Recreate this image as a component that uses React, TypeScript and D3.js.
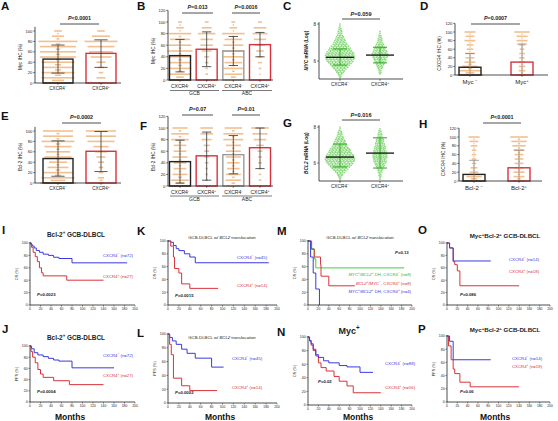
import React from "react";
import * as d3 from "d3";

const FONT = "'Liberation Sans', Arial, Helvetica, sans-serif";
const TAN = "#efb47c";
const RED = "#d8333a";
const BLUE = "#3a3ae0";
const GREEN = "#4cc437";
const INK = "#222";

// ---------- IHC dot-plot data (counts per 5% level, 0..100) ----------
const ihcLevels = [0, 5, 10, 15, 20, 25, 30, 35, 40, 45, 50, 55, 60, 65, 70, 75, 80, 85, 90, 95, 100];

const aMeans = [46, 57];
const aLows = [19, 30];
const aHighs = [73, 83];
const aDotsNeg = [20, 8, 22, 4, 22, 4, 20, 4, 22, 3, 24, 3, 24, 3, 24, 3, 26, 2, 8, 1, 5];
const aDotsPos = [4, 0, 6, 0, 3, 0, 4, 0, 6, 0, 14, 0, 16, 0, 18, 0, 22, 0, 12, 0, 5];

const bMeans = [42, 53, 50, 61];
const bLows = [14, 23, 25, 40];
const bHighs = [70, 83, 75, 82];
const bDotsGcbNeg = [18, 6, 18, 3, 18, 3, 16, 3, 18, 2, 20, 2, 18, 2, 16, 2, 18, 1, 6, 1, 3];
const bDotsGcbPos = [2, 0, 2, 0, 2, 0, 3, 0, 4, 0, 8, 0, 10, 0, 10, 0, 14, 0, 8, 0, 3];
const bDotsAbcNeg = [14, 4, 14, 2, 16, 2, 14, 2, 16, 2, 18, 2, 16, 2, 14, 2, 18, 1, 6, 1, 3];
const bDotsAbcPos = [1, 0, 1, 0, 2, 0, 3, 0, 4, 0, 6, 0, 8, 0, 10, 0, 12, 0, 10, 0, 3];

const dMeans = [18, 30];
const dLows = [0, 0];
const dHighs = [50, 72];
const dDotsNeg = [30, 8, 20, 3, 14, 3, 10, 2, 8, 1, 8, 1, 6, 1, 6, 1, 10, 1, 8, 1, 10];
const dDotsPos = [6, 2, 6, 1, 6, 1, 5, 1, 5, 1, 5, 1, 4, 1, 6, 1, 10, 1, 10, 1, 14];

const eMeans = [47, 61];
const eLows = [13, 22];
const eHighs = [81, 99];
const eDotsNeg = [24, 10, 22, 4, 20, 3, 14, 2, 12, 2, 18, 2, 16, 2, 18, 3, 22, 2, 20, 2, 20];
const eDotsPos = [4, 2, 4, 0, 3, 0, 3, 0, 4, 0, 6, 0, 8, 0, 10, 0, 18, 0, 20, 0, 20];

const fMeans = [42, 52, 54, 66];
const fLows = [5, 10, 21, 30];
const fHighs = [79, 93, 87, 100];
const fDotsGcbNeg = [16, 6, 14, 3, 12, 2, 10, 2, 10, 2, 12, 2, 10, 2, 10, 2, 14, 2, 14, 2, 12];
const fDotsGcbPos = [2, 0, 2, 0, 2, 0, 2, 0, 3, 0, 4, 0, 4, 0, 5, 0, 8, 0, 10, 0, 10];
const fDotsAbcNeg = [10, 3, 12, 2, 12, 2, 10, 2, 10, 2, 12, 2, 12, 2, 12, 2, 16, 2, 16, 2, 14];
const fDotsAbcPos = [1, 0, 2, 0, 2, 0, 2, 0, 3, 0, 3, 0, 4, 0, 6, 0, 10, 0, 12, 0, 14];

const hMeans = [15, 30];
const hLows = [0, 0];
const hHighs = [47, 70];
const hDotsNeg = [30, 6, 14, 2, 8, 1, 6, 1, 4, 1, 4, 1, 4, 1, 4, 1, 6, 1, 8, 1, 10];
const hDotsPos = [10, 3, 10, 2, 10, 2, 8, 2, 8, 2, 8, 2, 8, 2, 10, 2, 12, 2, 14, 2, 16];

// ---------- mRNA scatter data (counts per 0.1 log bin) ----------
const cNegStart = 5.1;
const cNegCounts = [1, 2, 3, 5, 6, 8, 10, 12, 14, 16, 17, 18, 18, 17, 16, 14, 13, 11, 9, 8, 7, 6, 5, 4, 3, 3, 2, 2, 1, 1];
const cPosStart = 5.3;
const cPosCounts = [1, 2, 2, 3, 4, 5, 6, 7, 8, 9, 10, 10, 9, 8, 7, 6, 5, 4, 3, 3, 2, 2, 1, 1];
const cMeans = [6.2, 6.32];
const cLows = [5.78, 5.9];
const cHighs = [6.65, 6.74];

const gNegStart = 5.0;
const gNegCounts = [1, 1, 2, 3, 4, 6, 8, 10, 12, 14, 16, 17, 18, 18, 17, 16, 14, 13, 12, 10, 9, 8, 7, 6, 5, 4, 3, 3, 2, 1, 1];
const gPosStart = 5.1;
const gPosCounts = [1, 1, 2, 2, 3, 3, 4, 5, 6, 7, 8, 8, 9, 9, 9, 8, 8, 7, 7, 6, 6, 5, 5, 4, 3, 3, 2, 2, 1];
const gMeans = [6.33, 6.55];
const gLows = [5.78, 5.72];
const gHighs = [7.05, 7.4];

// ---------- Kaplan-Meier curves [month, %] ----------
type Pt = [number, number];
const kmIBlue: Pt[] = [[0, 100], [2, 97], [5, 95], [8, 92], [12, 88], [18, 85], [25, 82], [35, 80], [45, 77], [55, 75], [80, 68], [185, 68]];
const kmIRed: Pt[] = [[0, 100], [3, 93], [6, 85], [10, 78], [14, 70], [18, 60], [22, 52], [25, 47], [70, 40], [140, 40]];
const kmJBlue: Pt[] = [[0, 100], [3, 95], [8, 88], [15, 84], [25, 81], [35, 78], [45, 75], [55, 73], [80, 61], [160, 61]];
const kmJRed: Pt[] = [[0, 100], [2, 90], [5, 80], [10, 70], [15, 58], [20, 50], [25, 44], [45, 38], [75, 31], [140, 31]];
const kmKBlue: Pt[] = [[0, 100], [5, 98], [10, 93], [15, 88], [20, 85], [30, 80], [40, 75], [50, 66], [185, 66]];
const kmKRed: Pt[] = [[0, 100], [5, 92], [10, 75], [12, 57], [20, 50], [25, 33], [40, 26], [92, 26]];
const kmLBlue: Pt[] = [[0, 100], [3, 95], [8, 90], [15, 85], [25, 78], [35, 72], [50, 65], [80, 52], [102, 52]];
const kmLRed: Pt[] = [[0, 100], [3, 85], [6, 70], [10, 36], [25, 25], [40, 18], [90, 18]];
const kmMGreen: Pt[] = [[0, 100], [5, 88], [12, 72], [15, 58], [185, 58]];
const kmMRed: Pt[] = [[0, 100], [7, 87], [12, 75], [24, 63], [25, 45], [40, 30], [90, 30]];
const kmMBlue: Pt[] = [[0, 100], [5, 75], [10, 50], [15, 25], [22, 0]];
const kmNBlue: Pt[] = [[0, 100], [3, 95], [6, 90], [10, 82], [15, 74], [20, 70], [30, 65], [40, 62], [60, 58], [75, 56], [100, 48], [125, 48]];
const kmNRed: Pt[] = [[0, 100], [3, 94], [6, 88], [10, 80], [15, 72], [20, 62], [25, 55], [35, 50], [50, 42], [60, 35], [75, 28], [87, 18], [140, 18]];
const kmOBlue: Pt[] = [[0, 100], [5, 92], [12, 71], [85, 71]];
const kmORed: Pt[] = [[0, 100], [5, 92], [12, 70], [15, 65], [20, 55], [25, 31], [140, 31]];
const kmPBlue: Pt[] = [[0, 100], [5, 92], [12, 64], [85, 64]];
const kmPRed: Pt[] = [[0, 100], [3, 85], [8, 64], [12, 50], [15, 43], [25, 30], [45, 23], [140, 23]];

const pctTicks = [0, 20, 40, 60, 80, 100];
const pctTicks120 = [0, 20, 40, 60, 80, 100, 120];
const monthTicks = [0, 20, 40, 60, 80, 100, 120, 140, 160, 180, 200];

// ---------- text helpers ----------
type Seg = { t: string; sup?: boolean; it?: boolean; b?: boolean };
const sp = (base: string, sup: string, rest = ""): Seg[] =>
  rest ? [{ t: base }, { t: sup, sup: true }, { t: rest }] : [{ t: base }, { t: sup, sup: true }];

function Rich({ x, y, segs, size, fill = INK, anchor = "start", weight = "normal", rotate = false }: any) {
  let shifted = false;
  const out: any[] = [];
  segs.forEach((s: Seg, i: number) => {
    let dy: number | undefined;
    if (s.sup && !shifted) { dy = -size * 0.4; shifted = true; }
    else if (!s.sup && shifted) { dy = size * 0.4; shifted = false; }
    out.push(
      <tspan key={i} dy={dy} fontSize={s.sup ? size * 0.7 : size}
        fontStyle={s.it ? "italic" : undefined} fontWeight={s.b ? "bold" : undefined}>{s.t}</tspan>
    );
  });
  return (
    <text x={x} y={y} fontSize={size} textAnchor={anchor} fontWeight={weight} fill={fill}
      fontFamily={FONT} transform={rotate ? `rotate(-90 ${x} ${y})` : undefined}>{out}</text>
  );
}

function PLabel({ x, y, val, size = 5.5, anchor = "middle", fill = INK }: any) {
  return (
    <text x={x} y={y} fontSize={size} textAnchor={anchor} fontFamily={FONT} fill={fill} fontWeight="bold">
      <tspan fontStyle="italic">P</tspan>{val}
    </text>
  );
}

// ---------- IHC bar panel ----------
function BarPanel({ c }: any) {
  const y = d3.scaleLinear().domain([0, 100]).range([c.y0, c.y100]);
  const x = d3.scalePoint<number>().domain(c.means.map((_: any, i: number) => i))
    .range([c.centers[0], c.centers[1]]);
  return (
    <g>
      {c.dots.map((counts: number[], gi: number) =>
        counts.map((n, li) => {
          if (!n) return null;
          const w = Math.min(n * c.sp, c.cap);
          return <rect key={`${gi}-${li}`} x={x(gi)! - w / 2} y={y(ihcLevels[li]) - 0.8} width={w} height={1.6}
            fill={TAN} opacity={0.85} />;
        })
      )}
      {c.means.map((m: number, i: number) => (
        <rect key={"b" + i} x={x(i)! - c.bw / 2} y={y(m)} width={c.bw} height={y(0) - y(m)}
          fill="none" stroke={c.strokes[i]} strokeWidth={1.4} />
      ))}
      {c.means.map((m: number, i: number) => {
        const cx = x(i)!;
        const hw = c.bw * 0.22;
        return (
          <g key={"e" + i} stroke={c.errColor || "#333"} strokeWidth={0.8}>
            <line x1={cx} x2={cx} y1={y(c.lows[i])} y2={y(c.highs[i])} />
            <line x1={cx - hw} x2={cx + hw} y1={y(c.highs[i])} y2={y(c.highs[i])} />
            {c.lows[i] > 0 && <line x1={cx - hw} x2={cx + hw} y1={y(c.lows[i])} y2={y(c.lows[i])} />}
          </g>
        );
      })}
      <line x1={c.axisX} x2={c.axisX} y1={y(0)} y2={y(c.axisMax)} stroke={INK} strokeWidth={0.8} />
      <line x1={c.axisX} x2={c.axisEnd} y1={y(0)} y2={y(0)} stroke={INK} strokeWidth={0.8} />
      {c.ticks.map((t: number) => (
        <g key={"t" + t}>
          <line x1={c.axisX - 1.8} x2={c.axisX} y1={y(t)} y2={y(t)} stroke={INK} strokeWidth={0.6} />
          <text x={c.axisX - 2.6} y={y(t) + 1.5} fontSize={4.2} textAnchor="end" fontFamily={FONT} fill={INK}>{t}</text>
        </g>
      ))}
      {c.means.map((_: number, i: number) => (
        <line key={"xt" + i} x1={x(i)} x2={x(i)} y1={y(0)} y2={y(0) + 1.8} stroke={INK} strokeWidth={0.6} />
      ))}
      {c.cats.map((segs: Seg[], i: number) => (
        <Rich key={"c" + i} x={x(i)} y={c.catY} segs={segs} size={c.catSize} anchor="middle" />
      ))}
      <Rich x={c.axisX - c.yLabOff} y={(y(0) + y(100)) / 2} segs={c.yLabel} size={c.yLabSize || 4.6} anchor="middle" rotate />
      {c.pvals.map((p: any, i: number) => (
        <g key={"p" + i}>
          <line x1={p.x1} x2={p.x2} y1={p.y} y2={p.y} stroke={INK} strokeWidth={0.8} />
          <PLabel x={(p.x1 + p.x2) / 2} y={p.y - 4.5} val={p.val} size={5.4} />
        </g>
      ))}
      {c.groups && c.groups.map((g: any, i: number) => (
        <g key={"g" + i}>
          <line x1={g.x1} x2={g.x2} y1={g.y} y2={g.y} stroke={INK} strokeWidth={0.6} />
          <text x={(g.x1 + g.x2) / 2} y={g.y + 4.6} fontSize={5} textAnchor="middle" fontFamily={FONT} fill={INK}>{g.label}</text>
        </g>
      ))}
    </g>
  );
}

// ---------- mRNA scatter panel ----------
function ScatterPanel({ c }: any) {
  const y = d3.scaleLinear().domain([6, 8]).range([c.y6, c.y8]);
  const x = d3.scalePoint<number>().domain([0, 1]).range(c.centers);
  const spacing = 1.7;
  return (
    <g>
      {c.sets.map((s: any, gi: number) =>
        s.counts.map((n: number, bi: number) => {
          const v = s.start + bi * 0.1;
          return d3.range(n).map((k) => (
            <circle key={`${gi}-${bi}-${k}`} cx={x(gi)! + (k - (n - 1) / 2) * spacing} cy={y(v) + (k % 2) * 0.6}
              r={0.85} fill={GREEN} opacity={0.65} />
          ));
        })
      )}
      {c.means.map((m: number, i: number) => {
        const cx = x(i)!;
        return (
          <g key={"e" + i}>
            <line x1={cx} x2={cx} y1={y(c.lows[i])} y2={y(c.highs[i])} stroke="#2fa51f" strokeWidth={0.9} />
            <line x1={cx - 7} x2={cx + 7} y1={y(c.highs[i])} y2={y(c.highs[i])} stroke="#2fa51f" strokeWidth={1} />
            <line x1={cx - 7} x2={cx + 7} y1={y(c.lows[i])} y2={y(c.lows[i])} stroke="#2fa51f" strokeWidth={1} />
            <line x1={cx - 14} x2={cx + 14} y1={y(m)} y2={y(m)} stroke="#111" strokeWidth={1.3} />
          </g>
        );
      })}
      <line x1={c.axisX} x2={c.axisX} y1={c.axisY} y2={y(8.1)} stroke={INK} strokeWidth={0.8} />
      <line x1={c.axisX} x2={c.axisEnd} y1={c.axisY} y2={c.axisY} stroke={INK} strokeWidth={0.8} />
      {[6, 8].map((t) => (
        <g key={t}>
          <line x1={c.axisX - 1.8} x2={c.axisX} y1={y(t)} y2={y(t)} stroke={INK} strokeWidth={0.6} />
          <text x={c.axisX - 3} y={y(t) + 1.5} fontSize={4.5} textAnchor="end" fontFamily={FONT} fill={INK}>{t}</text>
        </g>
      ))}
      {[0, 1].map((i) => (
        <g key={"c" + i}>
          <line x1={x(i)} x2={x(i)} y1={c.axisY} y2={c.axisY + 1.8} stroke={INK} strokeWidth={0.6} />
          <Rich x={x(i)} y={c.axisY + 6.5} segs={c.cats[i]} size={4.8} anchor="middle" />
        </g>
      ))}
      <Rich x={c.axisX - 11} y={(c.axisY + y(8.1)) / 2} segs={c.yLabel} size={4.8} anchor="middle" weight="bold" rotate />
      <line x1={c.p.x1} x2={c.p.x2} y1={c.p.y} y2={c.p.y} stroke={INK} strokeWidth={0.8} />
      <PLabel x={(c.p.x1 + c.p.x2) / 2} y={c.p.y - 3.2} val={c.p.val} size={5.6} />
    </g>
  );
}

// ---------- KM panel ----------
function KMPanel({ c }: any) {
  const x = d3.scaleLinear().domain([0, 200]).range([c.x0, c.x1]);
  const y = d3.scaleLinear().domain([0, 100]).range([c.yB, c.yT]);
  const line = d3.line<Pt>().x((d) => x(d[0])).y((d) => y(d[1])).curve(d3.curveStepAfter);
  return (
    <g>
      {c.curves.map((cv: any, i: number) => (
        <path key={i} d={line(cv.pts) || ""} fill="none" stroke={cv.color} strokeWidth={1} />
      ))}
      <line x1={c.x0} x2={c.x0} y1={y(0)} y2={y(100) - 1} stroke={INK} strokeWidth={0.8} />
      <line x1={c.x0} x2={c.x1} y1={y(0)} y2={y(0)} stroke={INK} strokeWidth={0.8} />
      {pctTicks.map((t) => (
        <g key={"y" + t}>
          <line x1={c.x0 - 1.6} x2={c.x0} y1={y(t)} y2={y(t)} stroke={INK} strokeWidth={0.5} />
          <text x={c.x0 - 2.4} y={y(t) + 1.3} fontSize={3.5} textAnchor="end" fontFamily={FONT} fill={INK}>{t}</text>
        </g>
      ))}
      {monthTicks.map((t) => (
        <g key={"x" + t}>
          <line x1={x(t)} x2={x(t)} y1={y(0)} y2={y(0) + 1.6} stroke={INK} strokeWidth={0.5} />
          <text x={x(t)} y={y(0) + 5} fontSize={3.3} textAnchor="middle" fontFamily={FONT} fill={INK}>{t}</text>
        </g>
      ))}
      <text x={c.x0 - 12} y={(y(0) + y(100)) / 2} fontSize={3.8} textAnchor="middle" fontFamily={FONT} fill={INK}
        transform={`rotate(-90 ${c.x0 - 12} ${(y(0) + y(100)) / 2})`}>{c.yLabel}</text>
      <Rich x={c.title.x} y={c.title.y} segs={c.title.segs} size={c.title.size} anchor="middle" weight={c.title.weight} />
      {c.legends.map((l: any, i: number) => (
        <Rich key={i} x={l.x} y={l.y} segs={l.segs} size={4.3} fill={l.color} anchor={l.anchor || "start"} />
      ))}
      <PLabel x={c.p.x} y={c.p.y} val={c.p.val} size={4.3} anchor="start" fill={INK} />
    </g>
  );
}

// ---------- configs (layout) ----------
const negSup = "\u2212";
const catNeg = sp("CXCR4", negSup);
const catPos = sp("CXCR4", "+");
const transTitle: Seg[] = [{ t: "GCB-DLBCL w/ " }, { t: "BCL2", it: true }, { t: " translocation" }];

const panelA = {
  axisX: 35, axisEnd: 121, y0: 83, y100: 31, axisMax: 108, ticks: pctTicks, centers: [58, 101], bw: 30, sp: 1.5, cap: 44,
  cats: [catNeg, catPos], catY: 90, catSize: 4.6, means: aMeans, lows: aLows, highs: aHighs,
  dots: [aDotsNeg, aDotsPos], strokes: [INK, RED], yLabel: [{ t: "Myc IHC (%)" }], yLabOff: 13,
  pvals: [{ x1: 60, x2: 99, y: 24, val: "<0.0001" }],
};
const panelB = {
  axisX: 168, axisEnd: 273, y0: 80, y100: 22, axisMax: 120, ticks: pctTicks120, centers: [180, 260], bw: 21, sp: 1.25, cap: 30,
  cats: [sp("CXCR4", "-"), sp("CXCR4", "+"), sp("CXCR4", "-"), sp("CXCR4", "+")], catY: 88, catSize: 5,
  means: bMeans, lows: bLows, highs: bHighs, dots: [bDotsGcbNeg, bDotsGcbPos, bDotsAbcNeg, bDotsAbcPos],
  strokes: [INK, RED, "#9a9a9a", RED], yLabel: [{ t: "Myc IHC (%)" }], yLabOff: 13,
  pvals: [{ x1: 182, x2: 213, y: 13, val: "=0.013" }, { x1: 232, x2: 260, y: 13, val: "=0.0016" }],
  groups: [{ x1: 170, x2: 219, y: 90.5, label: "GCB" }, { x1: 222, x2: 272, y: 90.5, label: "ABC" }],
};
const panelD = {
  axisX: 455, axisEnd: 548, y0: 75, y100: 32, axisMax: 120, ticks: pctTicks120, centers: [470, 522], bw: 22, sp: 1.1, cap: 26,
  cats: [[{ t: "Myc " }, { t: negSup, sup: true }], sp("Myc", "+")], catY: 84, catSize: 6,
  means: dMeans, lows: dLows, highs: dHighs, dots: [dDotsNeg, dDotsPos], strokes: [INK, RED], errColor: "#8a8a8a",
  yLabel: [{ t: "CXCR4 IHC (%)" }], yLabOff: 14, yLabSize: 4.8,
  pvals: [{ x1: 471, x2: 520, y: 24, val: "=0.0007" }],
};
const panelE = {
  axisX: 35, axisEnd: 121, y0: 183, y100: 131, axisMax: 108, ticks: pctTicks, centers: [58, 101], bw: 30, sp: 1.5, cap: 44,
  cats: [catNeg, catPos], catY: 190, catSize: 4.6, means: eMeans, lows: eLows, highs: eHighs,
  dots: [eDotsNeg, eDotsPos], strokes: [INK, RED], yLabel: [{ t: "Bcl-2 IHC (%)" }], yLabOff: 13,
  pvals: [{ x1: 62, x2: 101, y: 123, val: "=0.0002" }],
};
const panelF = {
  axisX: 168, axisEnd: 273, y0: 186, y100: 128, axisMax: 120, ticks: pctTicks120, centers: [180, 260], bw: 21, sp: 1.25, cap: 30,
  cats: [sp("CXCR4", "-"), sp("CXCR4", "+"), sp("CXCR4", "-"), sp("CXCR4", "+")], catY: 194, catSize: 5,
  means: fMeans, lows: fLows, highs: fHighs, dots: [fDotsGcbNeg, fDotsGcbPos, fDotsAbcNeg, fDotsAbcPos],
  strokes: [INK, RED, "#9a9a9a", RED], yLabel: [{ t: "Bcl-2 IHC (%)" }], yLabOff: 13,
  pvals: [{ x1: 182, x2: 213, y: 115, val: "=0.07" }, { x1: 232, x2: 260, y: 115, val: "=0.01" }],
  groups: [{ x1: 170, x2: 219, y: 196, label: "GCB" }, { x1: 222, x2: 272, y: 196, label: "ABC" }],
};
const panelH = {
  axisX: 459, axisEnd: 542, y0: 181, y100: 137, axisMax: 120, ticks: pctTicks120, centers: [474, 519], bw: 22, sp: 1.1, cap: 26,
  cats: [[{ t: "Bcl-2 " }, { t: negSup, sup: true }], sp("Bcl-2", "+")], catY: 190, catSize: 6,
  means: hMeans, lows: hLows, highs: hHighs, dots: [hDotsNeg, hDotsPos], strokes: [INK, RED], errColor: "#8a8a8a",
  yLabel: [{ t: "CXCR4 IHC (%)" }], yLabOff: 14, yLabSize: 4.8,
  pvals: [{ x1: 483, x2: 521, y: 123, val: "<0.0001" }],
};

const panelC = {
  axisX: 319, axisEnd: 403, axisY: 79, y6: 61, y8: 24, centers: [340, 380],
  sets: [{ start: cNegStart, counts: cNegCounts }, { start: cPosStart, counts: cPosCounts }],
  means: cMeans, lows: cLows, highs: cHighs, cats: [catNeg, catPos],
  yLabel: [{ t: "MYC", it: true }, { t: " mRNA (Log)" }],
  p: { x1: 342, x2: 380, y: 19, val: "=0.059" },
};
const panelG = {
  axisX: 319, axisEnd: 403, axisY: 181, y6: 163, y8: 127, centers: [340, 380],
  sets: [{ start: gNegStart, counts: gNegCounts }, { start: gPosStart, counts: gPosCounts }],
  means: gMeans, lows: gLows, highs: gHighs, cats: [catNeg, catPos],
  yLabel: [{ t: "BCL2", it: true }, { t: " mRNA (Log)" }],
  p: { x1: 342, x2: 380, y: 120, val: "=0.016" },
};

const bcl2Title = [{ t: "Bcl-2" }, { t: "+", sup: true }, { t: " GCB-DLBCL" }];
const mycBclTitle = [{ t: "Myc" }, { t: "+", sup: true }, { t: "Bcl-2" }, { t: "+", sup: true }, { t: " GCB-DLBCL" }];

const panelI = {
  x0: 30, x1: 135, yT: 243, yB: 305, yLabel: "OS (%)",
  title: { x: 76, y: 237, segs: bcl2Title, size: 6.4, weight: "bold" },
  curves: [{ pts: kmIBlue, color: BLUE }, { pts: kmIRed, color: RED }],
  legends: [{ x: 133, y: 257, segs: sp("CXCR4", negSup, " (n=72)"), color: BLUE, anchor: "end" },
    { x: 133, y: 278, segs: sp("CXCR4", "+", " (n=27)"), color: RED, anchor: "end" }],
  p: { x: 37, y: 296, val: "=0.0023" },
};
const panelJ = {
  x0: 30, x1: 135, yT: 346, yB: 402, yLabel: "PFS (%)",
  title: { x: 76, y: 340, segs: bcl2Title, size: 6.4, weight: "bold" },
  curves: [{ pts: kmJBlue, color: BLUE }, { pts: kmJRed, color: RED }],
  legends: [{ x: 133, y: 357, segs: sp("CXCR4", negSup, " (n=72)"), color: BLUE, anchor: "end" },
    { x: 133, y: 377, segs: sp("CXCR4", "+", " (n=27)"), color: RED, anchor: "end" }],
  p: { x: 37, y: 393, val: "=0.0004" },
};
const panelK = {
  x0: 168, x1: 277, yT: 241, yB: 305, yLabel: "OS (%)",
  title: { x: 222, y: 239, segs: transTitle, size: 4.3, weight: "normal" },
  curves: [{ pts: kmKBlue, color: BLUE }, { pts: kmKRed, color: RED }],
  legends: [{ x: 237, y: 259, segs: sp("CXCR4", negSup, " (n=45)"), color: BLUE },
    { x: 237, y: 287, segs: sp("CXCR4", "+", " (n=14)"), color: RED }],
  p: { x: 175, y: 297, val: "=0.0015" },
};
const panelL = {
  x0: 168, x1: 277, yT: 334, yB: 403, yLabel: "PFS (%)",
  title: { x: 222, y: 339, segs: transTitle, size: 4.3, weight: "normal" },
  curves: [{ pts: kmLBlue, color: BLUE }, { pts: kmLRed, color: RED }],
  legends: [{ x: 232, y: 360, segs: sp("CXCR4", negSup, " (n=45)"), color: BLUE },
    { x: 232, y: 389, segs: sp("CXCR4", "+", " (n=14)"), color: RED }],
  p: { x: 175, y: 394, val: "=0.0002" },
};
const panelM = {
  x0: 308, x1: 412, yT: 241, yB: 305, yLabel: "OS (%)",
  title: { x: 360, y: 239, segs: transTitle, size: 4.3, weight: "normal" },
  curves: [{ pts: kmMGreen, color: "#3fcf3f" }, { pts: kmMRed, color: RED }, { pts: kmMBlue, color: BLUE }],
  legends: [
    { x: 411, y: 276, anchor: "end", color: "#2db82d", segs: [{ t: "MYC", it: true }, { t: "+", sup: true }, { t: "/" }, { t: "BCL2", it: true }, { t: "+", sup: true }, { t: " DH, CXCR4" }, { t: negSup, sup: true }, { t: " (n=8)" }] },
    { x: 411, y: 284.5, anchor: "end", color: RED, segs: [{ t: "BCL2", it: true }, { t: "+", sup: true }, { t: "/" }, { t: "MYC", it: true }, { t: negSup, sup: true }, { t: ", CXCR4" }, { t: "+", sup: true }, { t: " (n=8)" }] },
    { x: 411, y: 293, anchor: "end", color: BLUE, segs: [{ t: "MYC", it: true }, { t: "+", sup: true }, { t: "/" }, { t: "BCL2", it: true }, { t: "+", sup: true }, { t: " DH, CXCR4" }, { t: "+", sup: true }, { t: " (n=4)" }] },
  ],
  p: { x: 395, y: 254, val: "=0.13" },
};
const panelN = {
  x0: 308, x1: 412, yT: 337, yB: 405, yLabel: "OS (%)",
  title: { x: 349, y: 334, segs: sp("Myc", "+"), size: 9, weight: "bold" },
  curves: [{ pts: kmNRed, color: RED }, { pts: kmNBlue, color: BLUE }],
  legends: [{ x: 385, y: 365, segs: sp("CXCR4", negSup, " (n=88)"), color: BLUE },
    { x: 385, y: 389, segs: sp("CXCR4", "+", " (n=56)"), color: RED }],
  p: { x: 318, y: 383, val: "=0.02" },
};
const panelO = {
  x0: 447, x1: 550, yT: 243, yB: 305, yLabel: "OS (%)",
  title: { x: 505, y: 238, segs: mycBclTitle, size: 6.2, weight: "bold" },
  curves: [{ pts: kmORed, color: RED }, { pts: kmOBlue, color: BLUE }],
  legends: [{ x: 509, y: 261, segs: sp("CXCR4", negSup, " (n=14)"), color: BLUE },
    { x: 509, y: 273, segs: sp("CXCR4", "+", " (n=18)"), color: RED }],
  p: { x: 460, y: 296, val: "=0.086" },
};
const panelP = {
  x0: 447, x1: 550, yT: 336, yB: 402, yLabel: "PFS (%)",
  title: { x: 505, y: 332, segs: mycBclTitle, size: 6.2, weight: "bold" },
  curves: [{ pts: kmPRed, color: RED }, { pts: kmPBlue, color: BLUE }],
  legends: [{ x: 512, y: 360, segs: sp("CXCR4", negSup, " (n=14)"), color: BLUE },
    { x: 512, y: 368, segs: sp("CXCR4", "+", " (n=18)"), color: RED }],
  p: { x: 460, y: 393, val: "=0.06" },
};

const letters: [string, number, number][] = [
  ["A", 1, 10], ["B", 137, 10], ["C", 283, 10], ["D", 420, 10],
  ["E", 1, 120], ["F", 140, 130], ["G", 283, 127], ["H", 419, 128],
  ["I", 2, 234], ["J", 2, 333], ["K", 137, 235], ["L", 137, 337],
  ["M", 277, 235], ["N", 277, 336], ["O", 418, 234], ["P", 418, 333],
];
const monthsX = [70, 220, 358, 495];

export default function App() {
  return (
    <svg width={558} height={421} viewBox="0 0 558 421"
      style={{ position: "absolute", left: 0, top: 0, background: "#fff" }}>
      <rect x={0} y={0} width={558} height={421} fill="#fff" />
      <BarPanel c={panelA} />
      <BarPanel c={panelB} />
      <ScatterPanel c={panelC} />
      <BarPanel c={panelD} />
      <BarPanel c={panelE} />
      <BarPanel c={panelF} />
      <ScatterPanel c={panelG} />
      <BarPanel c={panelH} />
      <KMPanel c={panelI} />
      <KMPanel c={panelJ} />
      <KMPanel c={panelK} />
      <KMPanel c={panelL} />
      <KMPanel c={panelM} />
      <KMPanel c={panelN} />
      <KMPanel c={panelO} />
      <KMPanel c={panelP} />
      {letters.map(([t, x, y]) => (
        <text key={t} x={x} y={y} fontSize={11.5} fontWeight="bold" fontFamily={FONT} fill="#111">{t}</text>
      ))}
      {monthsX.map((x, i) => (
        <text key={i} x={x} y={420} fontSize={8.5} fontWeight="bold" textAnchor="middle" fontFamily={FONT} fill="#111">Months</text>
      ))}
    </svg>
  );
}
